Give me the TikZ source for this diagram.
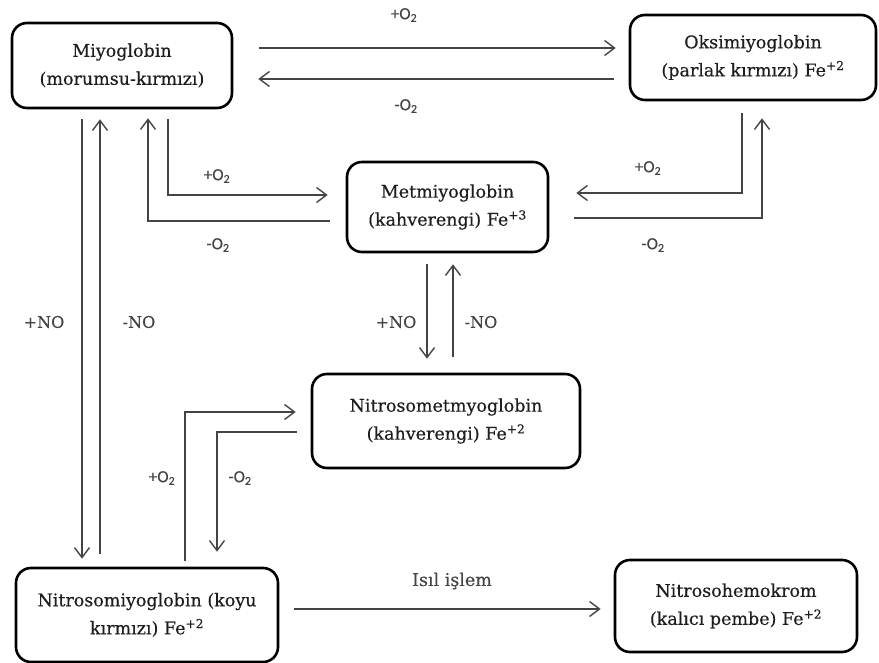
\documentclass[tikz,border=0pt]{standalone}
\usepackage{fontspec}
\setmainfont{DejaVu Serif}[BoldFont=DejaVu Serif,BoldFeatures={FakeBold=0.4}]
\newfontfamily\lblfont{Carlito}[BoldFont=Carlito,BoldFeatures={FakeBold=0.4}]
\usetikzlibrary{arrows.meta,calc}
\definecolor{linecol}{HTML}{444444}
\definecolor{txtcol}{HTML}{1E1E1E}
\begin{document}
\begin{tikzpicture}[x=1pt,y=-1pt,
  box/.style={draw=black,line width=2.6pt,rounded corners=15pt,align=center,
    text=txtcol,font=\bfseries\fontsize{17.5}{28}\selectfont,inner sep=0pt},
  arr/.style={draw=linecol,line width=1.4pt,-{Straight Barb[length=10pt,width=15pt,line width=1.4pt]}},
  olbl/.style={text=linecol,font=\lblfont\bfseries\fontsize{17}{18}\selectfont,inner sep=0pt},
  nlbl/.style={text=linecol,font=\bfseries\fontsize{16}{18}\selectfont,inner sep=0pt}]
\useasboundingbox (0,0) rectangle (879,663);
% boxes
\node[box,minimum width=220pt,minimum height=85pt] (miyo) at (122,65.5) {Miyoglobin\\(morumsu-kırmızı)};
\node[box,minimum width=246pt,minimum height=85pt] (oksi) at (753,57.5) {Oksimiyoglobin\\(parlak kırmızı) Fe\textsuperscript{+2}};
\node[box,minimum width=201pt,minimum height=90pt] (met) at (447.5,207) {Metmiyoglobin\\(kahverengi) Fe\textsuperscript{+3}};
\node[box,minimum width=268pt,minimum height=94pt] (nmet) at (446,421) {Nitrosometmyoglobin\\(kahverengi) Fe\textsuperscript{+2}};
\node[box,minimum width=262pt,minimum height=94pt] (nmiyo) at (147,615) {Nitrosomiyoglobin (koyu\\kırmızı) Fe\textsuperscript{+2}};
\node[box,minimum width=242pt,minimum height=92pt] (nhemo) at (736,606) {Nitrosohemokrom\\(kalıcı pembe) Fe\textsuperscript{+2}};
% Miyo <-> Oksi
\draw[arr] ($(miyo.east)+(26,-17.5)$) -- ($(oksi.west)+(-13,-9.5)$);
\draw[arr] ($(oksi.west)+(-15,21.5)$) -- ($(miyo.east)+(25,13.5)$);
\node[olbl] (l1) at (404,15) {+O\textsubscript{2}};
\node[olbl] (l2) at (406,106) {-O\textsubscript{2}};
% Miyo <-> Met
\draw[arr] ($(miyo.south)+(46,10)$) |- ($(met.west)+(-18,-12)$);
\draw[arr] ($(met.west)+(-16,14)$) -| ($(miyo.south)+(26,9)$);
\node[olbl] (l3) at (217,176) {+O\textsubscript{2}};
\node[olbl] (l4) at (218,245) {-O\textsubscript{2}};
% Oksi <-> Met
\draw[arr] ($(oksi.south)+(-11,12)$) |- ($(met.east)+(27,-14)$);
\draw[arr] ($(met.east)+(25,11)$) -| ($(oksi.south)+(9,17)$);
\node[olbl] (l5) at (648,168) {+O\textsubscript{2}};
\node[olbl] (l6) at (653,245) {-O\textsubscript{2}};
% Met <-> Nmet
\draw[arr] ($(met.south)+(-20.5,11)$) -- ($(nmet.north)+(-19,-14)$);
\draw[arr] ($(nmet.north)+(7,-16)$) -- ($(met.south)+(5.5,11)$);
\node[nlbl] (l7) at (396,322) {+NO};
\node[nlbl] (l8) at (481,322) {-NO};
% Miyo <-> Nmiyo
\draw[arr] ($(miyo.south)+(-40,10)$) -- ($(nmiyo.north)+(-65,-8)$);
\draw[arr] ($(nmiyo.north)+(-47,-13)$) -- ($(miyo.south)+(-22,10)$);
\node[nlbl] (l9) at (44,322) {+NO};
\node[nlbl] (l10) at (139,322) {-NO};
% Nmiyo <-> Nmet
\draw[arr] ($(nmiyo.north)+(38,-6)$) |- ($(nmet.west)+(-15,-9)$);
\draw[arr] ($(nmet.west)+(-14,11)$) -| ($(nmiyo.north)+(70,-15)$);
\node[olbl] (l11) at (162,478) {+O\textsubscript{2}};
\node[olbl] (l12) at (240,478) {-O\textsubscript{2}};
% Nmiyo -> Nhemo
\draw[arr] ($(nmiyo.east)+(15,-6)$) -- ($(nhemo.west)+(-13,3)$);
\node[nlbl,font=\bfseries\fontsize{17.5}{18}\selectfont] (l13) at (452,581) {Isıl işlem};
\end{tikzpicture}
\end{document}
